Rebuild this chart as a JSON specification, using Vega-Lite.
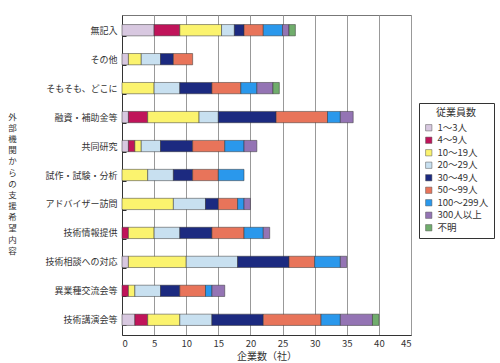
{
  "$schema": "https://vega.github.io/schema/vega-lite/v6.json",
  "autosize": "none",
  "width": 289,
  "height": 320,
  "padding": {"left": 122, "top": 15, "right": 89, "bottom": 28},
  "background": "white",
  "config": {
    "font": "Noto Sans CJK JP",
    "view": {"stroke": "#777", "strokeWidth": 1},
    "axis": {"labelFont": "Noto Sans CJK JP", "titleFont": "Noto Sans CJK JP", "labelColor": "#333", "titleColor": "#333", "titleFontWeight": "normal"},
    "legend": {"labelFont": "Noto Sans CJK JP", "titleFont": "Noto Sans CJK JP"}
  },
  "datasets": {
    "sizes": [
      {"s": "1～3人", "k": 1}, {"s": "4～9人", "k": 2}, {"s": "10～19人", "k": 3},
      {"s": "20～29人", "k": 4}, {"s": "30～49人", "k": 5}, {"s": "50～99人", "k": 6},
      {"s": "100～299人", "k": 7}, {"s": "300人以上", "k": 8}, {"s": "不明", "k": 9}
    ]
  },
  "data": {
    "values": [
      {"c": "無記入", "1～3人": 5, "4～9人": 4, "10～19人": 6.5, "20～29人": 2, "30～49人": 1.5, "50～99人": 3, "100～299人": 3, "300人以上": 1, "不明": 1},
      {"c": "その他", "1～3人": 1, "4～9人": 0, "10～19人": 2, "20～29人": 3, "30～49人": 2, "50～99人": 3, "100～299人": 0, "300人以上": 0, "不明": 0},
      {"c": "そもそも、どこに", "1～3人": 0, "4～9人": 0, "10～19人": 5, "20～29人": 4, "30～49人": 5, "50～99人": 4.5, "100～299人": 2.5, "300人以上": 2.5, "不明": 1},
      {"c": "融資・補助金等", "1～3人": 1, "4～9人": 3, "10～19人": 8, "20～29人": 3, "30～49人": 9, "50～99人": 8, "100～299人": 2, "300人以上": 2, "不明": 0},
      {"c": "共同研究", "1～3人": 1, "4～9人": 1, "10～19人": 1, "20～29人": 3, "30～49人": 5, "50～99人": 5, "100～299人": 3, "300人以上": 2, "不明": 0},
      {"c": "試作・試験・分析", "1～3人": 0, "4～9人": 0, "10～19人": 4, "20～29人": 4, "30～49人": 3, "50～99人": 4, "100～299人": 4, "300人以上": 0, "不明": 0},
      {"c": "アドバイザー訪問", "1～3人": 0, "4～9人": 0, "10～19人": 8, "20～29人": 5, "30～49人": 2, "50～99人": 3, "100～299人": 1, "300人以上": 1, "不明": 0},
      {"c": "技術情報提供", "1～3人": 0, "4～9人": 1, "10～19人": 4, "20～29人": 4, "30～49人": 5, "50～99人": 5, "100～299人": 3, "300人以上": 1, "不明": 0},
      {"c": "技術相談への対応", "1～3人": 1, "4～9人": 0, "10～19人": 9, "20～29人": 8, "30～49人": 8, "50～99人": 4, "100～299人": 4, "300人以上": 1, "不明": 0},
      {"c": "異業種交流会等", "1～3人": 0, "4～9人": 1, "10～19人": 1, "20～29人": 4, "30～49人": 3, "50～99人": 4, "100～299人": 1, "300人以上": 2, "不明": 0},
      {"c": "技術講演会等", "1～3人": 2, "4～9人": 2, "10～19人": 5, "20～29人": 5, "30～49人": 8, "50～99人": 9, "100～299人": 3, "300人以上": 5, "不明": 1}
    ]
  },
  "transform": [
    {"fold": ["1～3人", "4～9人", "10～19人", "20～29人", "30～49人", "50～99人", "100～299人", "300人以上", "不明"], "as": ["s", "n"]},
    {"filter": "datum.n > 0"},
    {"lookup": "s", "from": {"data": {"name": "sizes"}, "key": "s", "fields": ["k"]}}
  ],
  "mark": {"type": "bar", "stroke": "#333", "strokeWidth": 0.5},
  "encoding": {
    "y": {
      "field": "c", "type": "nominal",
      "sort": ["無記入", "その他", "そもそも、どこに", "融資・補助金等", "共同研究", "試作・試験・分析", "アドバイザー訪問", "技術情報提供", "技術相談への対応", "異業種交流会等", "技術講演会等"],
      "scale": {"paddingInner": 0.61, "paddingOuter": 0.33},
      "axis": {
        "title": ["外", "部", "機", "関", "か", "ら", "の", "支", "援", "希", "望", "内", "容"],
        "titleAngle": 0, "titleX": -110, "titleY": 97, "titleAlign": "center", "titleBaseline": "top",
        "titleLineHeight": 11.2, "titleFontSize": 8.5,
        "labelFontSize": 9, "labelPadding": 9,
        "ticks": true, "tickBand": "extent", "tickSize": -4, "tickColor": "#333",
        "domainColor": "#333", "grid": false
      }
    },
    "x": {
      "field": "n", "type": "quantitative", "aggregate": "sum",
      "scale": {"domain": [0, 45], "nice": false},
      "axis": {
        "title": "企業数（社）", "titleFontSize": 10, "titlePadding": 4,
        "values": [0, 5, 10, 15, 20, 25, 30, 35, 40, 45],
        "labelFontSize": 9.5, "labelPadding": 3, "ticks": false,
        "grid": true, "gridColor": "#999", "gridWidth": 1, "domainColor": "#333"
      }
    },
    "color": {
      "field": "s", "type": "nominal",
      "sort": ["1～3人", "4～9人", "10～19人", "20～29人", "30～49人", "50～99人", "100～299人", "300人以上", "不明"],
      "scale": {
        "domain": ["1～3人", "4～9人", "10～19人", "20～29人", "30～49人", "50～99人", "100～299人", "300人以上", "不明"],
        "range": ["#d8c8e0", "#c0145a", "#fbf36e", "#c8e0f0", "#1c2a80", "#e8745a", "#2a98ec", "#9474b4", "#70ad6c"]
      },
      "legend": {
        "title": "従業員数", "titleFontSize": 10, "titleFontWeight": "normal", "titleAnchor": "middle", "titleColor": "#333",
        "orient": "none", "legendX": 297, "legendY": 88,
        "strokeColor": "#333", "padding": 5,
        "symbolType": "square", "symbolSize": 40, "symbolStrokeColor": "#555", "symbolStrokeWidth": 0.5,
        "labelFontSize": 9.5, "labelColor": "#333", "rowPadding": 1.5, "labelOffset": 4
      }
    },
    "order": {"field": "k", "type": "quantitative", "sort": "ascending"}
  }
}
